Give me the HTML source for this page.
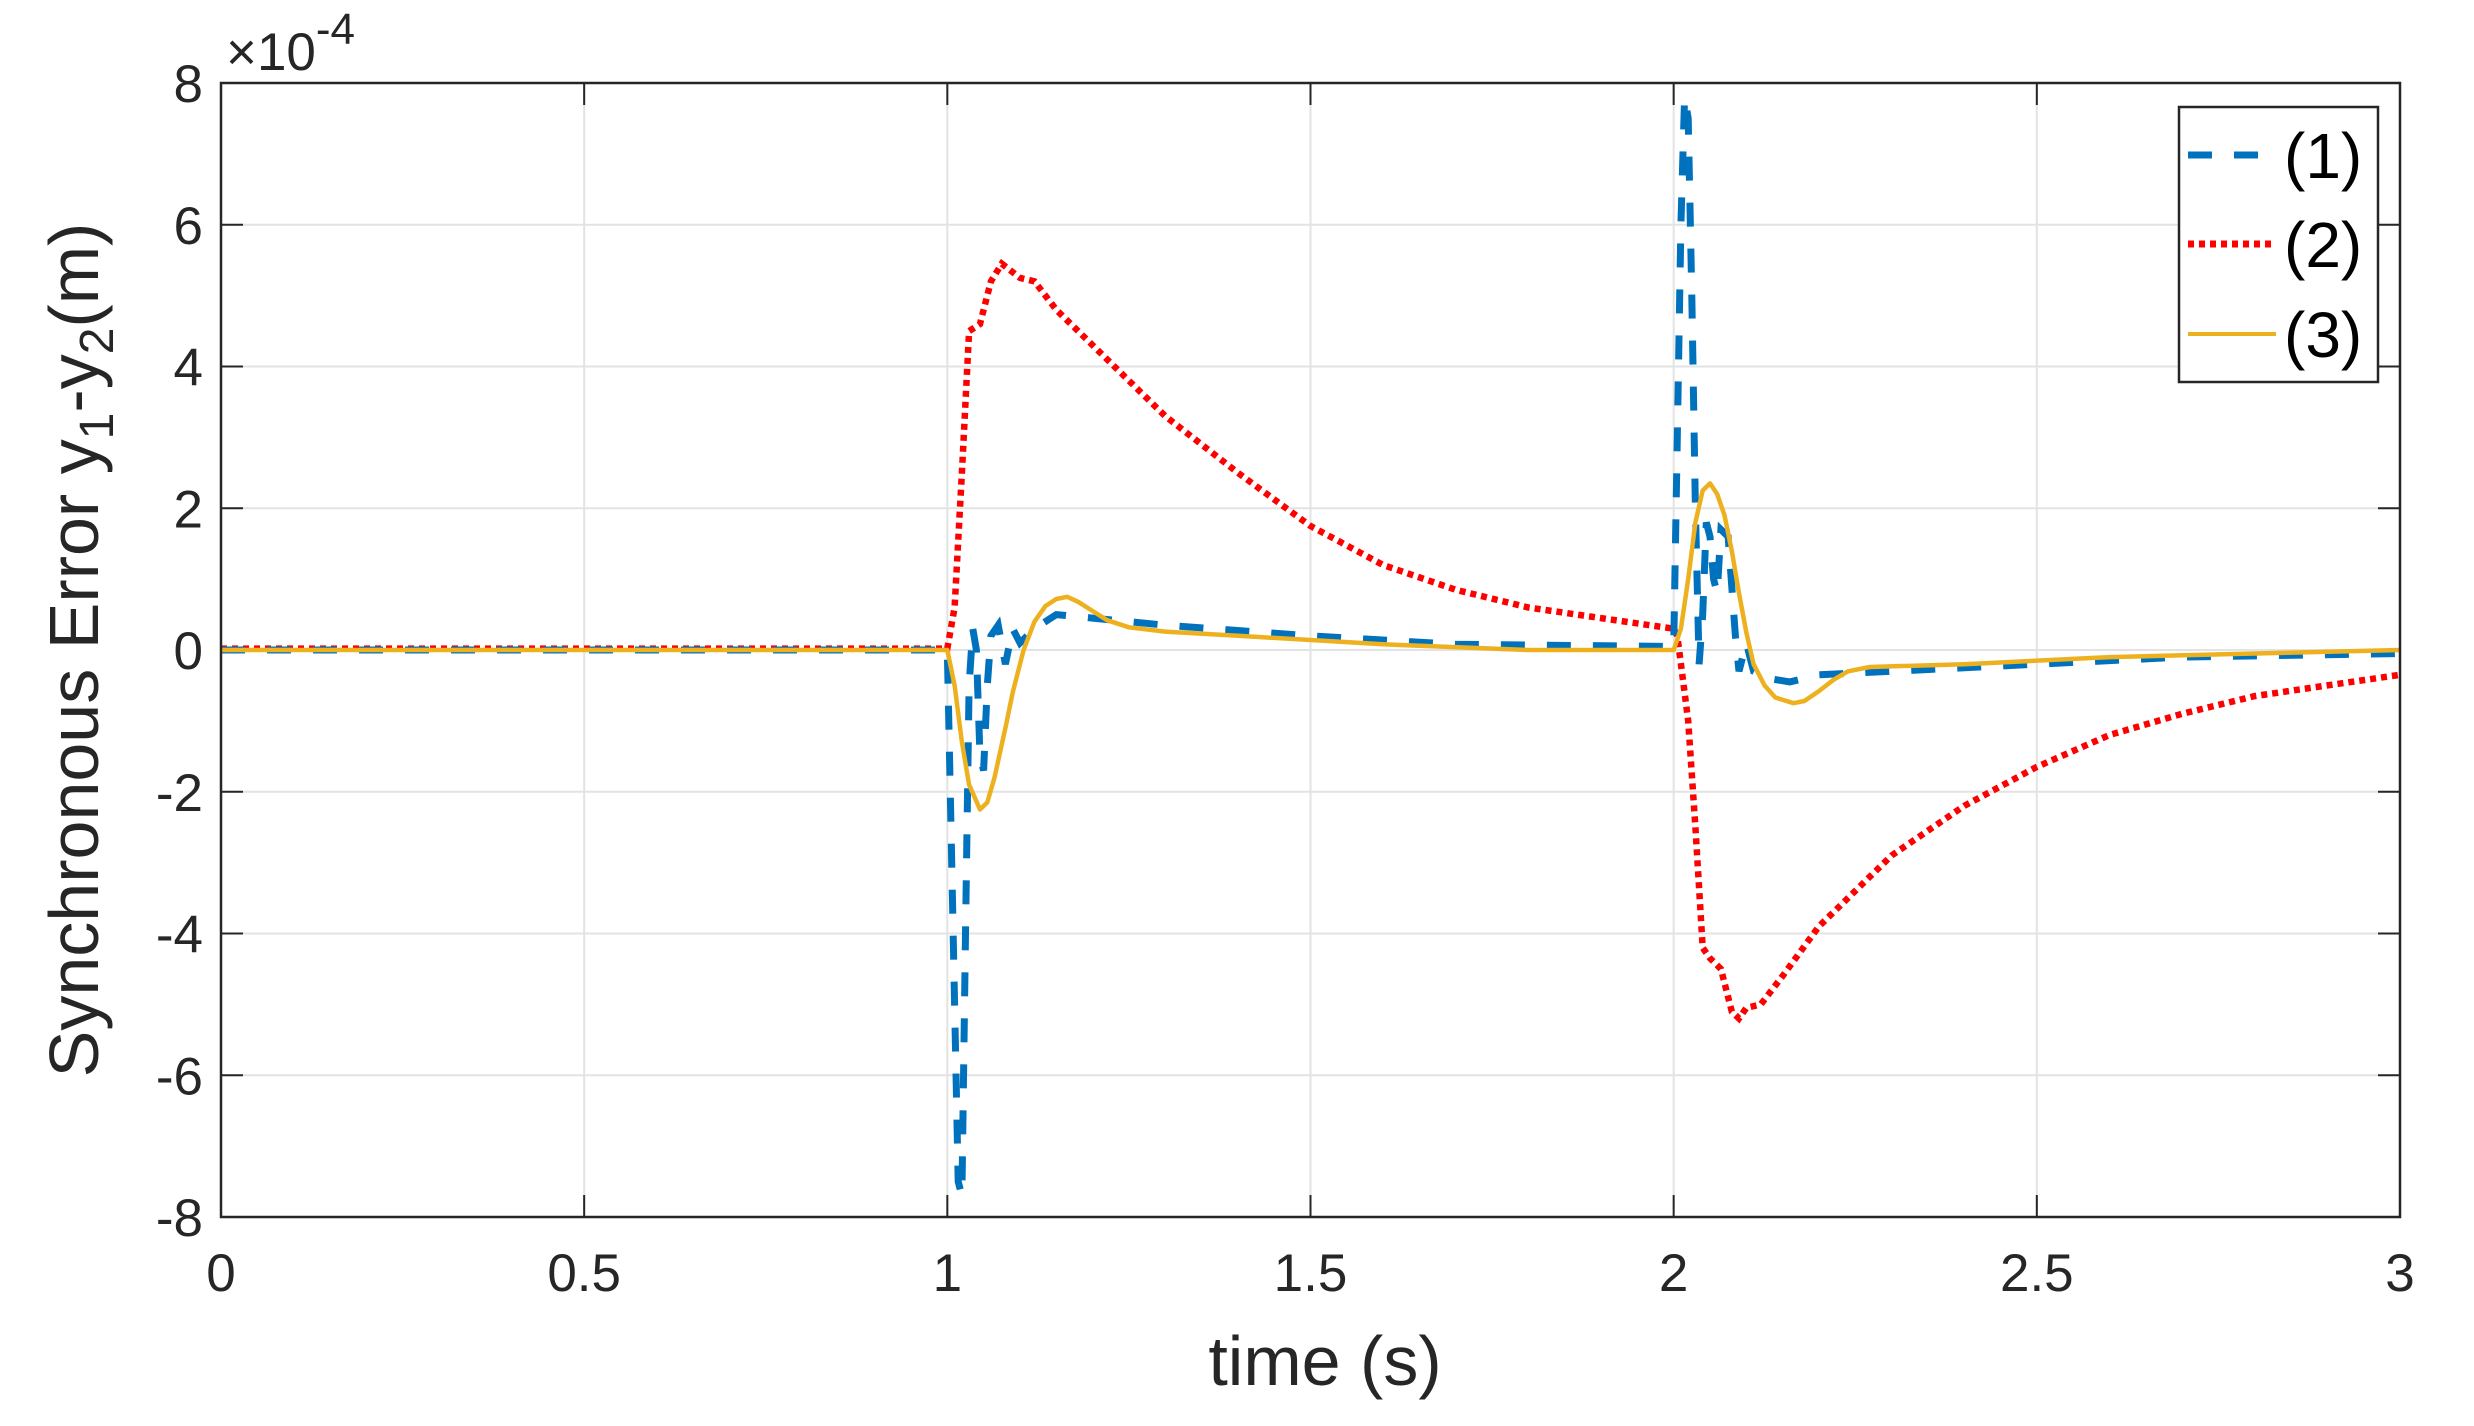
<!DOCTYPE html>
<html><head><meta charset="utf-8"><style>
html,body{margin:0;padding:0;background:#fff;overflow:hidden;}
svg text{font-family:"Liberation Sans",Arial,sans-serif;fill:#262626;}
</style></head><body>
<svg id="s" width="2474" height="1421" viewBox="0 0 2474 1421" xmlns="http://www.w3.org/2000/svg">
<defs><clipPath id="c"><rect x="221" y="83" width="2179" height="1134"/></clipPath></defs>
<rect width="2474" height="1421" fill="#fff"/>
<g id="grid" stroke="#e3e3e3" stroke-width="2"></g>
<g id="ticks" stroke="#262626" stroke-width="2"></g>
<g id="labels" font-size="53"></g>
<g clip-path="url(#c)">
<path id="p2" fill="none" stroke="#ff0000" stroke-width="6.5" stroke-dasharray="6,5"/>
<path id="p1" fill="none" stroke="#0072bd" stroke-width="7" stroke-dasharray="24,22"/>
<path id="p3" fill="none" stroke="#edb120" stroke-width="4.5" stroke-linejoin="round"/>
</g>
<rect x="221" y="83" width="2179" height="1134" fill="none" stroke="#262626" stroke-width="2.5"/>
<text x="226" y="70" font-size="53">×10<tspan dy="-26" font-size="44">-4</tspan></text>
<text x="1325" y="1385" font-size="70" text-anchor="middle">time (s)</text>
<text transform="translate(98,650) rotate(-90)" font-size="70" text-anchor="middle">Synchronous Error y<tspan dy="15" font-size="48">1</tspan><tspan dy="-15">-y</tspan><tspan dy="15" font-size="48">2</tspan><tspan dy="-15">(m)</tspan></text>
<rect x="2179" y="107" width="199" height="275" fill="#fff" stroke="#262626" stroke-width="2.5"/>
<line x1="2188" y1="155" x2="2259" y2="155" stroke="#0072bd" stroke-width="7" stroke-dasharray="24,22"/>
<line x1="2188" y1="244" x2="2276" y2="244" stroke="#ff0000" stroke-width="7" stroke-dasharray="6,5"/>
<line x1="2188" y1="334" x2="2276" y2="334" stroke="#edb120" stroke-width="4"/>
<text x="2284" y="178" font-size="64" style="fill:#000">(1)</text>
<text x="2284" y="267" font-size="64" style="fill:#000">(2)</text>
<text x="2284" y="357" font-size="64" style="fill:#000">(3)</text>
</svg>
<script>
var X=function(t){return 221+726.33*t},Y=function(v){return 650-70.875*v};
var ns="http://www.w3.org/2000/svg";
function el(p,n,a,txt){var e=document.createElementNS(ns,n);for(var k in a)e.setAttribute(k,a[k]);if(txt!==undefined)e.textContent=txt;document.getElementById(p).appendChild(e);}
for(var i=1;i<6;i++){var x=X(i*0.5);el('grid','line',{x1:x,y1:83,x2:x,y2:1217});}
for(var v=-6;v<=6;v+=2){el('grid','line',{x1:221,y1:Y(v),x2:2400,y2:Y(v)});}
for(var i=0;i<=6;i++){var x=X(i*0.5);el('ticks','line',{x1:x,y1:1217,x2:x,y2:1195});el('ticks','line',{x1:x,y1:83,x2:x,y2:105});
 el('labels','text',{x:x,y:1291,'text-anchor':'middle'},String(i*0.5));}
for(var v=-8;v<=8;v+=2){var y=Y(v);el('ticks','line',{x1:221,y1:y,x2:243,y2:y});el('ticks','line',{x1:2400,y1:y,x2:2378,y2:y});
 el('labels','text',{x:203,y:y+19,'text-anchor':'end'},String(v));}
function path(id,pts){var d='';pts.forEach(function(p,i){d+=(i?'L':'M')+X(p[0]).toFixed(1)+','+Y(p[1]).toFixed(1)});document.getElementById(id).setAttribute('d',d);}
path('p3',[[0,0],[1,0],[1.01,-0.5],[1.02,-1.3],[1.03,-1.9],[1.045,-2.25],[1.055,-2.15],[1.065,-1.8],[1.08,-1.1],[1.09,-0.6],[1.105,0],[1.12,0.4],[1.135,0.62],[1.15,0.72],[1.165,0.75],[1.18,0.68],[1.2,0.55],[1.22,0.42],[1.25,0.32],[1.3,0.26],[1.4,0.2],[1.6,0.08],[1.8,0.0],[2.0,0.0],[2.01,0.3],[2.02,1.0],[2.03,1.8],[2.04,2.25],[2.05,2.35],[2.06,2.2],[2.07,1.9],[2.08,1.4],[2.09,0.8],[2.1,0.25],[2.11,-0.2],[2.125,-0.5],[2.14,-0.67],[2.165,-0.75],[2.18,-0.72],[2.2,-0.58],[2.22,-0.42],[2.24,-0.3],[2.27,-0.24],[2.4,-0.2],[2.6,-0.1],[2.8,-0.05],[3,0]]);
path('p2',[[0,0.02],[1,0.02],[1.01,0.6],[1.02,2.5],[1.03,4.5],[1.045,4.6],[1.06,5.2],[1.075,5.45],[1.1,5.25],[1.12,5.2],[1.15,4.8],[1.2,4.3],[1.3,3.3],[1.4,2.5],[1.5,1.75],[1.6,1.2],[1.7,0.85],[1.8,0.6],[1.9,0.45],[2.0,0.3],[2.005,0.2],[2.02,-1],[2.03,-2.5],[2.04,-4.2],[2.05,-4.35],[2.065,-4.5],[2.08,-5.1],[2.09,-5.2],[2.1,-5.05],[2.12,-5.0],[2.15,-4.6],[2.2,-3.9],[2.3,-2.9],[2.4,-2.2],[2.5,-1.65],[2.6,-1.2],[2.7,-0.9],[2.8,-0.65],[2.9,-0.5],[3,-0.35]]);
path('p1',[[0,0],[1,0],[1.005,-2.5],[1.01,-5],[1.015,-7.5],[1.02,-7.7],[1.025,-4],[1.03,-0.5],[1.035,0.3],[1.04,0],[1.045,-1.5],[1.05,-1.7],[1.055,-0.5],[1.06,0.2],[1.07,0.35],[1.08,-0.2],[1.09,0.3],[1.1,0.1],[1.12,0.3],[1.15,0.5],[1.2,0.45],[1.3,0.35],[1.5,0.2],[1.7,0.08],[2.0,0.05],[2.005,3],[2.01,6],[2.015,7.8],[2.02,7.5],[2.025,5],[2.03,2],[2.035,-0.2],[2.04,0.5],[2.045,1.8],[2.05,1.6],[2.055,1.0],[2.06,0.8],[2.065,1.7],[2.075,1.6],[2.085,0.2],[2.09,-0.3],[2.1,0.1],[2.11,-0.3],[2.13,-0.4],[2.16,-0.45],[2.2,-0.35],[2.3,-0.3],[2.5,-0.2],[2.7,-0.1],[3,-0.05]]);
</script>
</body></html>
